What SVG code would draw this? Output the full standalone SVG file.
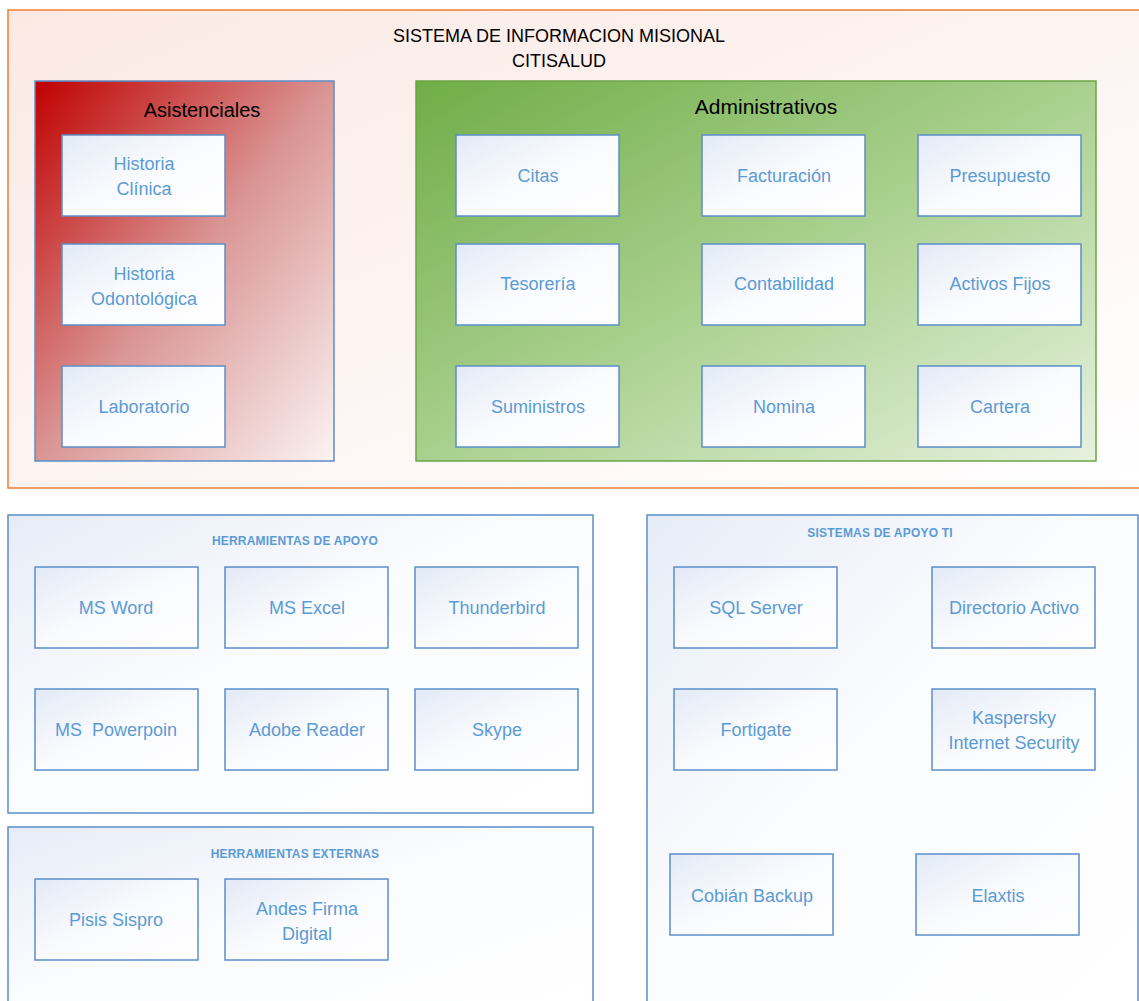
<svg xmlns="http://www.w3.org/2000/svg" width="1139" height="1001" viewBox="0 0 1139 1001">
<defs>
<linearGradient id="gOuter" x1="0" y1="0" x2="1" y2="1"><stop offset="0" stop-color="#fbe9e4"/><stop offset="1" stop-color="#ffffff"/></linearGradient>
<linearGradient id="gRed" x1="0" y1="0" x2="1" y2="1"><stop offset="0" stop-color="#c00000"/><stop offset="0.5" stop-color="#d99594"/><stop offset="1" stop-color="#fbf3f3"/></linearGradient>
<linearGradient id="gGreen" x1="0" y1="0" x2="1" y2="1"><stop offset="0" stop-color="#70ad47"/><stop offset="0.5" stop-color="#a9d08e"/><stop offset="1" stop-color="#e6f1df"/></linearGradient>
<linearGradient id="gBox" x1="0" y1="0" x2="1" y2="1"><stop offset="0" stop-color="#e3eaf6"/><stop offset="0.5" stop-color="#fafbfe"/><stop offset="1" stop-color="#ffffff"/></linearGradient>
<linearGradient id="gPanel" x1="0" y1="0" x2="1" y2="1"><stop offset="0" stop-color="#e6ecf7"/><stop offset="0.45" stop-color="#fbfcfe"/><stop offset="1" stop-color="#ffffff"/></linearGradient>
</defs>
<style>
.box{fill:url(#gBox);stroke:#5b8fc9;stroke-width:1.5}
.panel{fill:url(#gPanel);stroke:#5b8fc9;stroke-width:1.5}
.t{font-family:"Liberation Sans",Arial,sans-serif;font-size:18px;fill:#5b9bd5;text-anchor:middle}
.h{font-family:"Liberation Sans",Arial,sans-serif;font-size:12px;font-weight:bold;fill:#5b9bd5;text-anchor:middle;letter-spacing:0.2px}
.k{font-family:"Liberation Sans",Arial,sans-serif;fill:#000;text-anchor:middle}
</style>
<rect width="1139" height="1001" fill="#ffffff"/>
<g id="sistema-misional">
<rect x="8" y="10" width="1140" height="478" fill="url(#gOuter)" stroke="#ed7d31" stroke-width="1.5"/>
<text class="k" x="559" y="42" font-size="18">SISTEMA DE INFORMACION MISIONAL</text>
<text class="k" x="559" y="67" font-size="18">CITISALUD</text>
</g>
<g id="asistenciales">
<rect x="35" y="81" width="299" height="380" fill="url(#gRed)" stroke="#5b8fc9" stroke-width="1.5"/>
<text class="k" x="202" y="117" font-size="20">Asistenciales</text>
</g>
<g id="administrativos">
<rect x="416" y="81" width="680" height="380" fill="url(#gGreen)" stroke="#6aa544" stroke-width="1.5"/>
<text class="k" x="766" y="114" font-size="21">Administrativos</text>
</g>
<g id="historia-clinica"><rect class="box" x="62" y="135" width="163" height="81"/><text class="t" x="144" y="170">Historia</text><text class="t" x="144" y="195">Clínica</text></g>
<g id="historia-odontologica"><rect class="box" x="62" y="244" width="163" height="81"/><text class="t" x="144" y="280">Historia</text><text class="t" x="144" y="305">Odontológica</text></g>
<g id="laboratorio"><rect class="box" x="62" y="366" width="163" height="81"/><text class="t" x="144" y="413">Laboratorio</text></g>
<g id="citas"><rect class="box" x="456" y="135" width="163" height="81"/><text class="t" x="538" y="182">Citas</text></g>
<g id="facturacion"><rect class="box" x="702" y="135" width="163" height="81"/><text class="t" x="784" y="182">Facturación</text></g>
<g id="presupuesto"><rect class="box" x="918" y="135" width="163" height="81"/><text class="t" x="1000" y="182">Presupuesto</text></g>
<g id="tesoreria"><rect class="box" x="456" y="244" width="163" height="81"/><text class="t" x="538" y="290">Tesorería</text></g>
<g id="contabilidad"><rect class="box" x="702" y="244" width="163" height="81"/><text class="t" x="784" y="290">Contabilidad</text></g>
<g id="activos-fijos"><rect class="box" x="918" y="244" width="163" height="81"/><text class="t" x="1000" y="290">Activos Fijos</text></g>
<g id="suministros"><rect class="box" x="456" y="366" width="163" height="81"/><text class="t" x="538" y="413">Suministros</text></g>
<g id="nomina"><rect class="box" x="702" y="366" width="163" height="81"/><text class="t" x="784" y="413">Nomina</text></g>
<g id="cartera"><rect class="box" x="918" y="366" width="163" height="81"/><text class="t" x="1000" y="413">Cartera</text></g>
<g id="herramientas-apoyo">
<rect class="panel" x="8" y="515" width="585" height="298"/>
<text class="h" x="295" y="545">HERRAMIENTAS DE APOYO</text>
</g>
<g id="herramientas-externas">
<rect class="panel" x="8" y="827" width="585" height="190"/>
<text class="h" x="295" y="858">HERRAMIENTAS EXTERNAS</text>
</g>
<g id="sistemas-apoyo-ti">
<rect class="panel" x="647" y="515" width="491" height="500"/>
<text class="h" x="880" y="537">SISTEMAS DE APOYO TI</text>
</g>
<g id="ms-word"><rect class="box" x="35" y="567" width="163" height="81"/><text class="t" x="116" y="614">MS Word</text></g>
<g id="ms-excel"><rect class="box" x="225" y="567" width="163" height="81"/><text class="t" x="307" y="614">MS Excel</text></g>
<g id="thunderbird"><rect class="box" x="415" y="567" width="163" height="81"/><text class="t" x="497" y="614">Thunderbird</text></g>
<g id="ms-powerpoint"><rect class="box" x="35" y="689" width="163" height="81"/><text class="t" x="116" y="736" xml:space="preserve">MS  Powerpoin</text></g>
<g id="adobe-reader"><rect class="box" x="225" y="689" width="163" height="81"/><text class="t" x="307" y="736">Adobe Reader</text></g>
<g id="skype"><rect class="box" x="415" y="689" width="163" height="81"/><text class="t" x="497" y="736">Skype</text></g>
<g id="pisis-sispro"><rect class="box" x="35" y="879" width="163" height="81"/><text class="t" x="116" y="926">Pisis Sispro</text></g>
<g id="andes-firma"><rect class="box" x="225" y="879" width="163" height="81"/><text class="t" x="307" y="915">Andes Firma</text><text class="t" x="307" y="940">Digital</text></g>
<g id="sql-server"><rect class="box" x="674" y="567" width="163" height="81"/><text class="t" x="756" y="614">SQL Server</text></g>
<g id="directorio-activo"><rect class="box" x="932" y="567" width="163" height="81"/><text class="t" x="1014" y="614">Directorio Activo</text></g>
<g id="fortigate"><rect class="box" x="674" y="689" width="163" height="81"/><text class="t" x="756" y="736">Fortigate</text></g>
<g id="kaspersky"><rect class="box" x="932" y="689" width="163" height="81"/><text class="t" x="1014" y="724">Kaspersky</text><text class="t" x="1014" y="749">Internet Security</text></g>
<g id="cobian-backup"><rect class="box" x="670" y="854" width="163" height="81"/><text class="t" x="752" y="902">Cobián Backup</text></g>
<g id="elaxtis"><rect class="box" x="916" y="854" width="163" height="81"/><text class="t" x="998" y="902">Elaxtis</text></g>
<g id="connectors"/>
</svg>
